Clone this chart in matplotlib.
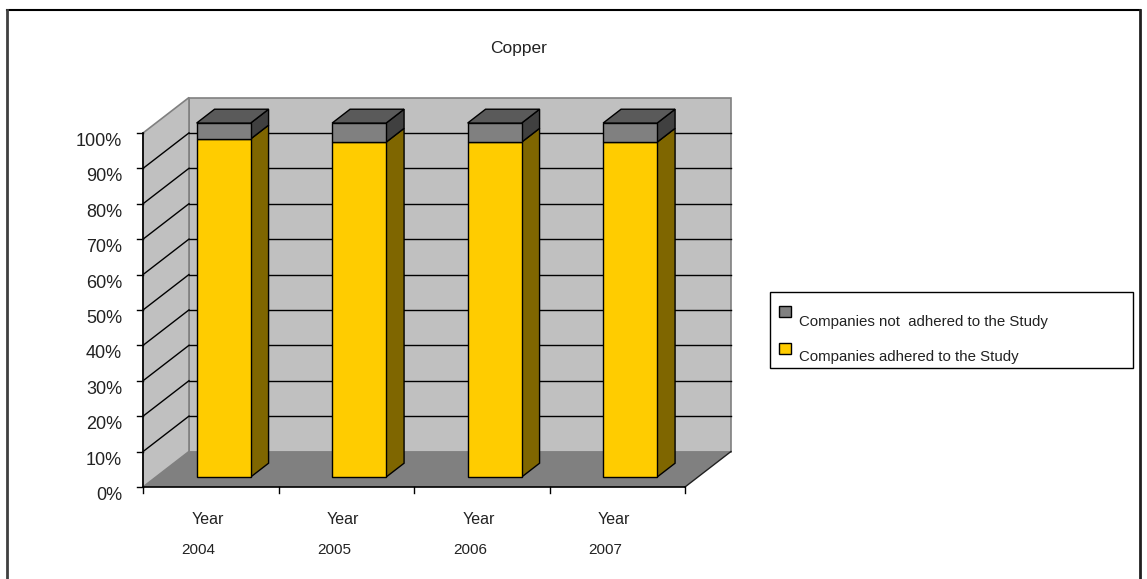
import matplotlib.pyplot as plt
from matplotlib.patches import Polygon, Rectangle
from matplotlib.lines import Line2D

plt.rcParams['font.family'] = ['Liberation Sans', 'DejaVu Sans']

# chart data
years = ['2004', '2005', '2006', '2007']
adhered = [95.5, 94.6, 94.6, 94.6]
not_adhered = [100 - v for v in adhered]
y_ticks = [0, 10, 20, 30, 40, 50, 60, 70, 80, 90, 100]
series_names = ['Companies not  adhered to the Study',
                'Companies adhered to the Study']

W, H = 1147, 579
fig = plt.figure(figsize=(W / 100, H / 100), dpi=100)
ax = fig.add_axes([0, 0, 1, 1])
ax.axis('off')

# map one category to 135.5 px and 1 % to 3.54 px, origin at px (143, 487)
cat_px, pct_px = 135.5, 3.54
x0_px, y0_px = 143, 487
ax.set_xlim(-x0_px / cat_px, (W - x0_px) / cat_px)
ax.set_ylim(-(H - y0_px) / pct_px, y0_px / pct_px)

# oblique depth of the 3d box, in data units
dx, dy = 46 / cat_px, 35.5 / pct_px
n = len(years)
ymax = 100

wall = '#c0c0c0'
floor = '#808080'

# back wall and left wall
ax.add_patch(Polygon([(dx, dy), (n + dx, dy), (n + dx, ymax + dy), (dx, ymax + dy)],
                     closed=True, fc=wall, ec='#808080', lw=1.2, zorder=1))
ax.add_patch(Polygon([(0, 0), (dx, dy), (dx, ymax + dy), (0, ymax)],
                     closed=True, fc=wall, ec='#808080', lw=1.2, zorder=1))

# gridlines on the walls (the 100 % line is the wall edge)
for v in y_ticks[1:-1]:
    ax.plot([dx, n + dx], [v + dy, v + dy], color='black', lw=1, zorder=2)
    ax.plot([0, dx], [v, v + dy], color='black', lw=1, zorder=2)

# floor
ax.add_patch(Polygon([(0, 0), (n, 0), (n + dx, dy), (dx, dy)],
                     closed=True, fc=floor, ec='none', zorder=3))
ax.plot([n, n + dx], [0, dy], color='#202020', lw=1, zorder=3)

# axes lines and ticks
ax.plot([0, 0], [0, ymax], color='black', lw=1.2, zorder=4)
ax.plot([0, n], [0, 0], color='black', lw=1.2, zorder=4)
tick_x = 6 / cat_px
tick_y = 6 / pct_px
for v in y_ticks:
    ax.plot([-tick_x, 0], [v, v], color='black', lw=1, zorder=4)
    ax.text(-21 / cat_px, v - 8.5 / pct_px, f'{v}%', ha='right', va='center',
            fontsize=13, color='#222222')
for i in range(n + 1):
    ax.plot([i, i], [0, -tick_y], color='black', lw=1, zorder=4)
for i, yr in enumerate(years):
    ax.text(i + 0.5 - 3 / cat_px, -33 / pct_px, 'Year', ha='center', va='center',
            fontsize=11.5, color='#222222')
    ax.text(i + 0.5 - 12 / cat_px, -63 / pct_px, yr, ha='center', va='center',
            fontsize=11, color='#222222')

# 3d columns
bw = 54 / cat_px
f0, f1 = 0.28, 0.67
bdx, bdy = (f1 - f0) * dx, (f1 - f0) * dy


def column_piece(xc, bottom, top, front, side, roof):
    x1 = xc - bw / 2 + f0 * dx
    x2 = x1 + bw
    b = bottom + f0 * dy
    t = top + f0 * dy
    ax.add_patch(Polygon([(x2, b), (x2 + bdx, b + bdy), (x2 + bdx, t + bdy), (x2, t)],
                         closed=True, fc=side, ec='black', lw=1, zorder=5))
    ax.add_patch(Rectangle((x1, b), bw, t - b, fc=front, ec='black', lw=1, zorder=6))
    if roof:
        ax.add_patch(Polygon([(x1, t), (x2, t), (x2 + bdx, t + bdy), (x1 + bdx, t + bdy)],
                             closed=True, fc=roof, ec='black', lw=1, zorder=6))


for i in range(n):
    xc = i + 0.5
    column_piece(xc, 0, adhered[i], '#ffcc00', '#7f6600', None)
    column_piece(xc, adhered[i], adhered[i] + not_adhered[i],
                 '#808080', '#404040', '#5a5a5a')

# title
fig.text(519 / W, 1 - 48 / H, 'Copper', ha='center', va='center',
         fontsize=12.5, color='#222222')

# legend
ax.add_patch(Rectangle((770 / W, 1 - 368 / H), 363 / W, 76 / H, transform=fig.transFigure,
                       fc='white', ec='black', lw=1, zorder=7))
legend_rows = [(312, 322, '#808080', series_names[0]),
               (349, 357, '#ffcc00', series_names[1])]
for sq_y, txt_y, col, name in legend_rows:
    ax.add_patch(Rectangle((779 / W, 1 - (sq_y + 5) / H), 12 / W, 11 / H,
                           transform=fig.transFigure, fc=col, ec='black', lw=1, zorder=8))
    fig.text(799 / W, 1 - txt_y / H, name, ha='left', va='center',
             fontsize=10.8, color='#222222')

# chart area border
fig.add_artist(Line2D([7 / W, 1140 / W], [1 - 10 / H, 1 - 10 / H], color='black', lw=1.5))
fig.add_artist(Line2D([7 / W, 7 / W], [0, 1 - 10 / H], color='#404040', lw=2))
fig.add_artist(Line2D([1140 / W, 1140 / W], [0, 1 - 10 / H], color='#202020', lw=2))

fig.savefig('out.png', dpi=100)
